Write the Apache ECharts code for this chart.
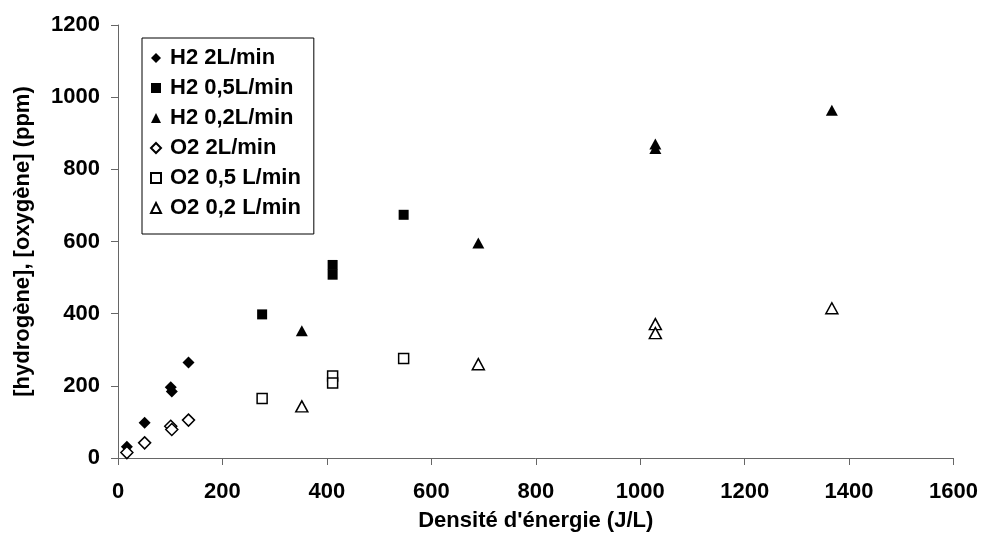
<!DOCTYPE html>
<html>
<head>
<meta charset="utf-8">
<script src="https://cdn.jsdelivr.net/npm/echarts@6/dist/echarts.min.js"></script>
<style>
  html, body { margin: 0; padding: 0; background: #fff; }
  #chartBox { width: 981px; height: 543px; }
</style>
</head>
<body>
<div id="chartBox"></div>
<script>
// données : densité d'énergie (J/L) et concentration (ppm)
const seriesNames = ['H2 2L/min', 'H2 0,5L/min', 'H2 0,2L/min', 'O2 2L/min', 'O2 0,5 L/min', 'O2 0,2 L/min'];

const x2L = [17, 51, 101, 103, 135];
const h2_2L = [31, 98, 196, 184, 265];
const o2_2L = [15, 42, 88, 79, 105];

const x05L = [276, 411, 411, 547];
const h2_05L = [398, 535, 508, 674];
const o2_05L = [165, 227, 208, 276];

const x02L = [352, 690, 1029, 1029, 1367];
const h2_02L = [353, 596, 870, 858, 964];
const o2_02L = [143, 260, 371, 346, 415];

const xTicks = [0, 1600, 200];   // min, max, interval
const yTicks = [0, 1200, 200];

const font = 'Liberation Sans, Arial, sans-serif';

// associe x et y
function pairs(xs, ys) {
  return xs.map((x, i) => [x, ys[i]]);
}

const chart = echarts.init(document.getElementById('chartBox'));

// style des marqueurs : plein (H2) ou vide (O2)
const filled = { color: '#000', borderColor: '#000', borderWidth: 0, opacity: 1 };
const hollow = { color: '#fff', borderColor: '#000', borderWidth: 1.5, opacity: 1 };

const labelStyle = { fontFamily: font, fontWeight: 'bold', fontSize: 22, color: '#000' };

const option = {
  animation: false,
  backgroundColor: '#fff',
  grid: {
    left: 118,
    right: 27,
    top: 25,
    bottom: 85,
  },
  legend: {
    orient: 'vertical',
    left: 142,
    top: 38,
    padding: [9, 13, 15, 8],
    itemGap: 8,
    itemWidth: 10,
    itemHeight: 10,
    borderColor: '#000',
    borderWidth: 1,
    data: seriesNames,
    textStyle: Object.assign({ padding: [0, 0, 0, 4] }, labelStyle),
  },
  xAxis: {
    type: 'value',
    min: xTicks[0],
    max: xTicks[1],
    interval: xTicks[2],
    name: "Densité d'énergie (J/L)",
    nameLocation: 'middle',
    nameGap: 52,
    nameTextStyle: labelStyle,
    axisLine: { show: true, onZero: false, lineStyle: { color: '#666', width: 1 } },
    axisTick: { show: true, length: 7, lineStyle: { color: '#666' } },
    axisLabel: Object.assign({ margin: 23, formatter: v => String(v) }, labelStyle),
    splitLine: { show: false },
  },
  yAxis: {
    type: 'value',
    min: yTicks[0],
    max: yTicks[1],
    interval: yTicks[2],
    name: '[hydrogène], [oxygène] (ppm)',
    nameLocation: 'middle',
    nameGap: 84,
    nameTextStyle: labelStyle,
    axisLine: { show: true, onZero: false, lineStyle: { color: '#666', width: 1 } },
    axisTick: { show: true, length: 7, lineStyle: { color: '#666' } },
    axisLabel: Object.assign({ margin: 18, formatter: v => String(v) }, labelStyle),
    splitLine: { show: false },
  },
  series: [
    { name: seriesNames[0], type: 'scatter', symbol: 'diamond', symbolSize: 12, itemStyle: filled, data: pairs(x2L, h2_2L) },
    { name: seriesNames[1], type: 'scatter', symbol: 'rect', symbolSize: 10, itemStyle: filled, data: pairs(x05L, h2_05L) },
    { name: seriesNames[2], type: 'scatter', symbol: 'triangle', symbolSize: [12, 11], itemStyle: filled, data: pairs(x02L, h2_02L) },
    { name: seriesNames[3], type: 'scatter', symbol: 'diamond', symbolSize: 12, itemStyle: hollow, data: pairs(x2L, o2_2L) },
    { name: seriesNames[4], type: 'scatter', symbol: 'rect', symbolSize: 10, itemStyle: hollow, data: pairs(x05L, o2_05L) },
    { name: seriesNames[5], type: 'scatter', symbol: 'triangle', symbolSize: [12, 11], itemStyle: hollow, data: pairs(x02L, o2_02L) },
  ],
};

chart.setOption(option);
</script>
</body>
</html>
